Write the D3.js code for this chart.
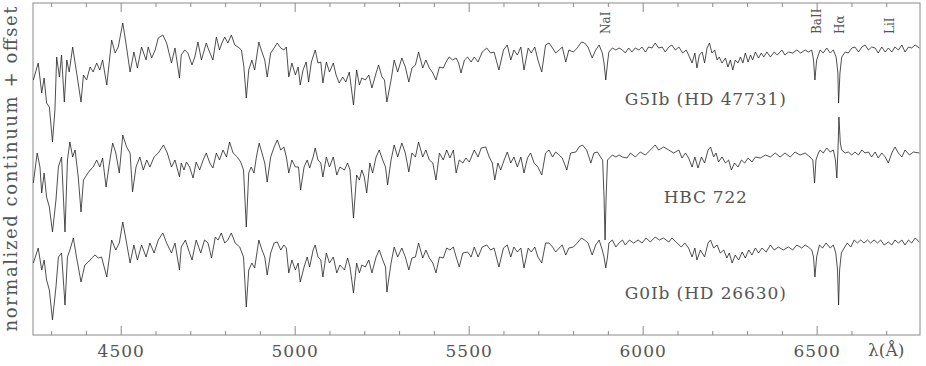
<!DOCTYPE html>
<html>
<head>
<meta charset="utf-8">
<script src="https://cdn.jsdelivr.net/npm/d3@7"></script>
<style>
  html, body { margin: 0; padding: 0; background: #fff; }
  svg text { font-family: "DejaVu Serif", serif; fill: #555; }
</style>
</head>
<body>
<svg id="chart" width="926" height="366"></svg>
<script>
// spectra: [wavelength (Å), normalized flux x100]
const g5ib = [[4249,65],[4263,82],[4273,52],[4280,67],[4287,42],[4295,38],[4304,3],[4311,35],[4316,88],[4324,68],[4330,90],[4338,43],[4345,85],[4352,73],[4362,98],[4373,73],[4386,43],[4393,70],[4402,65],[4412,78],[4421,73],[4431,82],[4440,75],[4448,85],[4460,60],[4474,105],[4484,92],[4493,98],[4506,122],[4515,102],[4527,73],[4538,93],[4548,77],[4560,98],[4573,85],[4579,98],[4589,87],[4599,95],[4608,107],[4621,110],[4632,102],[4646,82],[4656,97],[4669,67],
  [4674,90],[4684,95],[4693,92],[4705,80],[4713,88],[4722,103],[4732,85],[4746,102],[4753,95],[4765,85],[4775,108],[4784,95],[4791,102],[4799,108],[4808,102],[4818,110],[4828,100],[4837,98],[4847,95],[4854,78],[4861,47],[4868,75],[4877,85],[4885,75],[4897,103],[4904,95],[4914,85],[4921,68],[4931,92],[4941,97],[4950,102],[4960,97],[4969,95],[4976,98],[4983,68],[4992,82],[5002,70],[5010,78],[5016,60],[5024,75],[5033,83],[5040,63],[5048,83],[5059,95],[5067,82],[5075,83],[5081,62],[5091,83],
  [5100,73],[5111,82],[5119,70],[5128,62],[5138,68],[5147,63],[5157,73],[5169,40],[5178,75],[5186,60],[5193,67],[5203,65],[5213,70],[5222,57],[5234,72],[5241,80],[5251,68],[5258,65],[5265,43],[5277,65],[5286,85],[5296,73],[5308,87],[5318,78],[5328,63],[5337,77],[5347,80],[5356,93],[5368,77],[5377,85],[5387,77],[5397,72],[5406,65],[5416,78],[5427,77],[5435,83],[5444,88],[5454,85],[5464,87],[5471,82],[5478,72],[5488,85],[5497,88],[5507,83],[5516,88],
  [5527,83],[5539,93],[5552,97],[5563,92],[5573,93],[5587,75],[5600,95],[5611,100],[5621,85],[5630,95],[5640,90],[5650,98],[5659,75],[5671,97],[5680,92],[5690,98],[5699,85],[5710,73],[5721,100],[5731,102],[5741,97],[5750,92],[5760,95],[5769,98],[5779,83],[5788,95],[5801,93],[5812,97],[5824,103],[5833,102],[5843,98],[5855,87],[5865,95],[5875,100],[5884,92],[5889,82],[5894,65],[5899,82],[5903,93],[5913,97],[5923,95],[5932,97],[5942,95],
  [5950,92],[5960,97],[5969,93],[5979,97],[5989,95],[5998,98],[6008,93],[6017,98],[6027,97],[6036,102],[6046,97],[6056,98],[6065,93],[6075,98],[6084,100],[6094,95],[6104,98],[6115,92],[6125,95],[6132,90],[6142,82],[6150,92],[6156,77],[6163,90],[6171,93],[6178,82],[6185,97],[6192,102],[6199,92],[6207,95],[6214,85],[6220,88],[6228,82],[6238,87],[6245,78],[6252,85],[6259,75],[6266,85],[6274,82],[6281,88],[6288,82],[6295,92],[6303,83],[6310,90],[6316,85],[6324,93],[6333,87],[6341,92],[6348,88],[6357,93],[6367,88],
  [6378,93],[6387,90],[6400,95],[6409,90],[6419,93],[6431,92],[6443,95],[6454,92],[6467,95],[6476,93],[6486,95],[6491,85],[6495,65],[6500,85],[6510,95],[6519,92],[6529,97],[6539,92],[6548,95],[6556,88],[6561,72],[6563,42],[6567,72],[6572,88],[6582,93],[6591,92],[6601,97],[6610,98],[6620,93],[6630,98],[6639,100],[6649,95],[6658,98],[6668,97],[6677,92],[6687,98],[6697,93],[6706,97],[6716,93],[6725,98],[6735,95],[6745,100],[6754,93],[6764,98],[6773,97],[6783,100],[6795,97]];

const hbc722 = [[4249,67],[4260,97],[4268,83],[4273,57],[4280,77],[4287,53],[4295,43],[4304,18],[4314,50],[4321,83],[4330,93],[4340,18],[4347,90],[4354,108],[4362,93],[4369,100],[4378,73],[4386,38],[4393,70],[4402,75],[4412,80],[4421,83],[4431,90],[4440,83],[4448,92],[4458,63],[4469,90],[4477,107],[4486,97],[4496,77],[4506,115],[4517,103],[4527,97],[4534,58],[4544,83],[4555,93],[4565,80],[4575,90],[4584,83],[4596,93],[4608,97],[4623,105],[4634,97],[4646,83],[4656,90],[4669,73],
  [4674,87],[4682,80],[4689,88],[4698,83],[4708,72],[4717,88],[4727,80],[4737,90],[4746,97],[4756,87],[4765,82],[4775,97],[4784,90],[4794,100],[4804,93],[4813,108],[4823,97],[4835,93],[4845,88],[4853,80],[4861,23],[4868,77],[4875,83],[4883,77],[4890,93],[4898,107],[4906,97],[4914,87],[4921,68],[4931,93],[4941,103],[4950,110],[4960,100],[4969,103],[4976,93],[4983,77],[4992,90],[5002,83],[5011,83],[5017,60],[5027,83],[5036,90],[5043,82],[5053,93],[5059,102],[5067,90],[5075,87],[5081,73],[5091,93],
  [5100,83],[5111,93],[5121,75],[5130,83],[5143,80],[5152,87],[5159,80],[5169,32],[5178,75],[5186,70],[5193,80],[5200,73],[5207,57],[5216,87],[5224,77],[5234,93],[5243,100],[5253,90],[5261,83],[5267,65],[5277,90],[5286,105],[5296,93],[5308,107],[5318,97],[5328,78],[5337,97],[5347,93],[5356,108],[5368,93],[5377,100],[5387,90],[5397,87],[5406,70],[5416,97],[5427,90],[5437,100],[5446,92],[5456,100],[5464,77],[5473,90],[5483,87],[5492,92],[5502,88],[5516,100],
  [5527,93],[5536,102],[5549,103],[5559,93],[5568,87],[5575,70],[5584,87],[5592,80],[5602,90],[5611,98],[5621,87],[5630,93],[5640,83],[5650,93],[5659,77],[5669,92],[5678,97],[5688,87],[5699,83],[5710,75],[5721,97],[5731,100],[5741,93],[5750,98],[5760,95],[5769,92],[5782,80],[5793,97],[5808,98],[5817,103],[5827,105],[5839,100],[5851,87],[5860,97],[5870,98],[5879,93],[5885,90],[5889,53],[5892,10],[5895,53],[5899,90],[5913,95],[5923,93],[5932,95],[5942,93],
  [5955,92],[5965,97],[5979,93],[5993,98],[6008,95],[6022,100],[6036,105],[6046,100],[6060,103],[6075,100],[6089,97],[6104,100],[6113,92],[6123,97],[6132,92],[6142,83],[6150,93],[6159,82],[6169,93],[6178,87],[6188,100],[6195,103],[6204,93],[6211,97],[6218,88],[6228,93],[6238,87],[6247,90],[6255,80],[6264,87],[6274,83],[6284,90],[6293,87],[6303,92],[6314,88],[6324,93],[6338,92],[6353,95],[6367,93],
  [6381,97],[6395,93],[6409,97],[6424,93],[6438,98],[6452,95],[6467,97],[6481,93],[6489,90],[6494,67],[6498,90],[6505,97],[6510,100],[6519,97],[6529,102],[6539,98],[6548,100],[6554,90],[6558,72],[6562,107],[6564,133],[6568,107],[6572,100],[6582,97],[6591,98],[6601,95],[6610,98],[6620,95],[6630,100],[6639,97],[6649,98],[6658,93],[6668,98],[6677,92],[6687,97],[6697,93],[6706,87],[6716,97],[6725,103],[6735,97],[6745,93],[6754,100],[6767,95],[6778,98],[6795,97]];

const g0ib = [[4249,72],[4263,87],[4273,65],[4280,75],[4287,55],[4295,45],[4304,15],[4314,48],[4321,78],[4330,82],[4340,30],[4347,78],[4354,85],[4364,97],[4373,78],[4386,53],[4397,70],[4407,73],[4417,77],[4426,80],[4436,77],[4445,78],[4460,58],[4474,95],[4486,85],[4496,92],[4506,113],[4517,92],[4527,72],[4538,90],[4548,75],[4560,90],[4573,78],[4584,92],[4596,82],[4608,95],[4621,102],[4632,92],[4646,82],[4656,92],[4669,65],
  [4674,88],[4686,95],[4695,85],[4705,75],[4717,95],[4730,82],[4741,95],[4751,92],[4761,77],[4772,98],[4780,95],[4789,102],[4799,92],[4808,95],[4818,102],[4829,92],[4842,88],[4853,78],[4861,28],[4868,65],[4877,72],[4885,67],[4897,95],[4906,85],[4914,78],[4921,60],[4931,82],[4941,92],[4950,93],[4960,85],[4969,90],[4976,87],[4983,62],[4992,75],[5002,65],[5010,72],[5016,53],[5027,68],[5036,78],[5043,68],[5053,85],[5059,90],[5067,78],[5075,75],[5081,58],[5091,82],
  [5100,72],[5111,78],[5121,62],[5130,70],[5143,65],[5152,77],[5159,68],[5169,42],[5178,72],[5186,62],[5193,70],[5203,68],[5213,75],[5222,62],[5234,78],[5243,85],[5253,75],[5261,68],[5265,43],[5277,72],[5286,88],[5296,78],[5308,87],[5318,78],[5328,65],[5337,77],[5347,78],[5356,92],[5368,77],[5377,85],[5387,77],[5397,72],[5406,62],[5416,78],[5427,77],[5437,87],[5446,85],[5456,88],[5464,78],[5473,68],[5483,82],[5497,83],[5507,78],[5516,88],
  [5527,78],[5539,88],[5552,90],[5563,85],[5573,87],[5587,68],[5600,87],[5611,90],[5621,78],[5630,88],[5640,83],[5650,87],[5659,67],[5671,87],[5680,83],[5690,88],[5699,78],[5710,72],[5721,92],[5731,92],[5741,88],[5750,83],[5760,87],[5769,90],[5779,80],[5788,87],[5801,88],[5812,92],[5824,97],[5833,95],[5843,92],[5855,80],[5865,90],[5875,95],[5884,85],[5889,78],[5894,67],[5899,78],[5903,92],[5913,95],[5923,88],[5932,92],[5942,95],
  [5950,90],[5962,95],[5974,92],[5987,95],[5998,92],[6010,97],[6022,93],[6036,98],[6048,95],[6060,97],[6075,93],[6084,97],[6099,92],[6111,88],[6121,92],[6132,87],[6142,78],[6150,87],[6156,75],[6166,85],[6178,78],[6188,92],[6195,95],[6204,87],[6214,90],[6223,82],[6233,85],[6242,77],[6249,82],[6257,72],[6266,80],[6276,75],[6286,83],[6295,77],[6305,85],[6314,80],[6324,87],[6333,82],[6343,87],[6355,83],[6367,90],
  [6378,85],[6390,88],[6404,85],[6419,88],[6431,85],[6443,90],[6457,87],[6467,90],[6476,88],[6486,85],[6491,78],[6495,58],[6500,78],[6508,90],[6517,87],[6527,92],[6539,87],[6548,90],[6555,82],[6560,65],[6563,30],[6566,65],[6571,82],[6579,87],[6588,92],[6598,88],[6608,95],[6617,92],[6627,95],[6636,92],[6646,95],[6655,92],[6665,95],[6675,92],[6684,95],[6694,90],[6706,93],[6716,90],[6725,95],[6735,92],[6745,95],[6754,90],[6764,95],[6773,92],[6783,97],[6795,93]];

const starNames = ["G5Ib (HD 47731)", "HBC 722", "G0Ib (HD 26630)"];
const offsets = [1.9, 0.85, 0];
const lineNames = ["NaI", "BaII", "H\u03b1", "LiI"];
const lineWaves = [5893, 6497, 6563, 6708];
const majorTicks = [4500, 5000, 5500, 6000, 6500];
const minorTicks = [4300, 4400, 4600, 4700, 4800, 4900, 5100, 5200, 5300, 5400, 5600, 5700, 5800, 5900, 6100, 6200, 6300, 6400, 6600, 6700];

const W = 926, H = 366;
const margin = {left: 33, right: 6, top: 3, bottom: 31};
const svg = d3.select("#chart");

const x = d3.scaleLinear().domain([4248, 6797]).range([margin.left, W - margin.right]);
const y = d3.scaleLinear().domain([0, 3.32]).range([H - margin.bottom, margin.top]);

const axisColor = "#8a8a8a";

// frame
svg.append("rect")
    .attr("x", x.range()[0])
    .attr("y", y.range()[1])
    .attr("width", x.range()[1] - x.range()[0])
    .attr("height", y.range()[0] - y.range()[1])
    .attr("fill", "none")
    .attr("stroke", axisColor)
    .attr("stroke-width", 1);

// ticks, inward on bottom and top
function tickAxes(vals, len, labels) {
    const bottom = svg.append("g")
        .attr("transform", `translate(0,${y.range()[0]})`)
        .call(d3.axisBottom(x).tickValues(vals).tickSize(-len).tickSizeOuter(0)
              .tickFormat(labels ? d3.format("d") : ""));
    const top = svg.append("g")
        .attr("transform", `translate(0,${y.range()[1]})`)
        .call(d3.axisTop(x).tickValues(vals).tickSize(-len).tickSizeOuter(0).tickFormat(""));
    [bottom, top].forEach(g => {
        g.select(".domain").remove();
        g.selectAll(".tick line").attr("stroke", axisColor);
    });
    return bottom;
}
tickAxes(minorTicks, 4, false);
const xb = tickAxes(majorTicks, 9, true);
xb.selectAll(".tick text")
    .attr("y", 22).attr("dy", 0)
    .attr("font-size", 17)
    .attr("letter-spacing", 1)
    .attr("font-family", "DejaVu Serif")
    .attr("fill", "#555");

svg.append("text")
    .attr("x", 868).attr("y", 356)
    .attr("font-size", 17)
    .text("\u03bb(\u00c5)");

// y label
svg.append("text")
    .attr("transform", `translate(17,${(y.range()[0] + y.range()[1]) / 2}) rotate(-90)`)
    .attr("text-anchor", "middle")
    .attr("font-size", 18)
    .attr("textLength", 325)
    .attr("lengthAdjust", "spacing")
    .text("normalized continuum + offset");

// spectra
const spectra = [g5ib, hbc722, g0ib];
spectra.forEach((spec, i) => {
    const line = d3.line()
        .x(d => x(d[0]))
        .y(d => y(d[1] / 100 + offsets[i]));
    svg.append("path")
        .datum(spec)
        .attr("d", line)
        .attr("fill", "none")
        .attr("stroke", "#222")
        .attr("stroke-width", 0.8)
        .attr("stroke-linejoin", "round");
});

// star labels
const starLabelY = [2.30, 1.32, 0.36];
const starLabelLen = [161, 83, 161];
starNames.forEach((name, i) => {
    svg.append("text")
        .attr("x", x(6180))
        .attr("y", y(starLabelY[i]))
        .attr("text-anchor", "middle")
        .attr("font-size", 17)
        .attr("textLength", starLabelLen[i])
        .attr("lengthAdjust", "spacing")
        .text(name);
});

// line identifications
lineNames.forEach((name, i) => {
    svg.append("text")
        .attr("transform", `translate(${x(lineWaves[i]) + 5},34) rotate(-90)`)
        .attr("font-size", 12)
        .text(name);
});
</script>
</body>
</html>
